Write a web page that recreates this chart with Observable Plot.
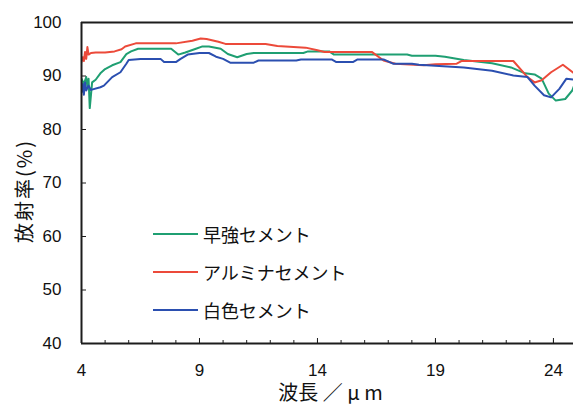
<!DOCTYPE html>
<html>
<head>
<meta charset="utf-8">
<script src="https://cdn.jsdelivr.net/npm/d3@7"></script>
<script src="https://cdn.jsdelivr.net/npm/@observablehq/plot@0.6"></script>
<style>
  html, body { margin: 0; padding: 0; background: #fff; }
  #wrap { position: relative; width: 573px; height: 404px; overflow: hidden; }
  #legend { position: absolute; left: 153px; top: 215px; font-family: "Noto Sans CJK JP", "Noto Sans", sans-serif; font-size: 18px; color: #111; }
  .item { display: flex; align-items: center; height: 38px; }
  .sw { width: 45px; height: 2px; margin-right: 5px; }
  #ytitle { position: absolute; left: 24px; top: 191px; transform: translate(-50%, -50%) rotate(-90deg);
            white-space: nowrap; font-family: "Noto Sans CJK JP", sans-serif; font-size: 20px; letter-spacing: 2px; color: #111; line-height: 1; }
</style>
</head>
<body>
<div id="wrap"><div id="ytitle"></div><div id="legend"></div></div>
<script>
// Series names and colours
const seriesNames = ["早強セメント", "アルミナセメント", "白色セメント"];
const seriesColors = ["#1f9f72", "#ec4a3a", "#2b4fb0"];

// 早強セメント (early-strength cement)
const earlyX = [4.0, 4.1, 4.2, 4.25, 4.3, 4.35, 4.45, 4.6, 4.8, 5.0, 5.3, 5.65, 5.9, 6.1, 6.4, 7.0, 7.8, 8.1, 8.4, 8.85, 9.1, 9.4, 9.9, 10.2, 10.6, 11.0, 11.3, 13.4, 13.6, 14.5, 14.7, 17.8, 18.0, 19.0, 19.4, 20.2, 21.4, 22.2, 22.8, 23.2, 23.5, 23.8, 24.1, 24.5, 24.8, 24.9];
const earlyY = [89.5, 88.5, 89.8, 88.0, 89.5, 84.0, 88.8, 89.3, 90.5, 91.3, 92.0, 92.6, 94.1, 94.6, 95.1, 95.1, 95.1, 94.0, 94.4, 95.1, 95.5, 95.5, 95.1, 94.1, 93.5, 94.1, 94.3, 94.3, 94.6, 94.6, 94.0, 94.0, 93.8, 93.8, 93.6, 93.0, 92.4, 91.6, 90.5, 90.3, 89.5, 86.7, 85.4, 85.7, 87.3, 88.5];

// アルミナセメント (alumina cement)
const aluminaX = [4.0, 4.05, 4.1, 4.15, 4.2, 4.25, 4.3, 4.4, 4.6, 5.0, 5.4, 5.7, 5.85, 6.3, 8.0, 8.7, 9.05, 9.3, 9.8, 10.1, 11.8, 12.3, 13.5, 14.0, 14.3, 16.3, 16.8, 17.3, 18.5, 19.0, 19.9, 20.1, 22.3, 22.9, 23.2, 23.5, 23.9, 24.4, 24.9];
const aluminaY = [92.6, 93.5, 92.8, 94.5, 93.2, 95.4, 94.0, 94.3, 94.4, 94.4, 94.6, 95.0, 95.5, 96.1, 96.1, 96.6, 97.0, 96.9, 96.4, 96.0, 96.0, 95.6, 95.3, 94.8, 94.5, 94.5, 92.9, 92.3, 92.0, 92.2, 92.3, 92.8, 92.8, 89.8, 88.8, 89.2, 90.7, 92.1, 90.4];

// 白色セメント (white cement)
const whiteX = [4.0, 4.05, 4.1, 4.15, 4.2, 4.3, 4.4, 4.8, 4.95, 5.3, 5.65, 5.9, 6.0, 6.5, 7.35, 7.5, 8.0, 8.2, 8.5, 9.0, 9.4, 9.7, 10.0, 10.3, 11.3, 11.5, 13.1, 13.3, 14.6, 14.8, 15.5, 15.7, 16.8, 17.2, 18.0, 18.3, 20.2, 21.4, 22.3, 22.9, 23.2, 23.6, 23.9, 24.25, 24.55, 24.9];
const whiteY = [87.0, 88.5, 86.5, 88.8, 87.3, 88.2, 87.4, 87.9, 88.2, 89.8, 90.7, 92.3, 93.0, 93.2, 93.2, 92.6, 92.6, 93.2, 94.0, 94.3, 94.3, 93.6, 93.2, 92.5, 92.5, 92.9, 92.9, 93.1, 93.1, 92.6, 92.6, 93.1, 93.1, 92.3, 92.3, 92.1, 91.6, 91.0, 90.1, 89.8, 88.2, 86.4, 86.0, 87.6, 89.5, 89.3];

// Axes
const xMajorTicks = [4, 9, 14, 19, 24];
const xMinorTicks = d3.range(4, 25, 1);
const yTicks = [40, 50, 60, 70, 80, 90, 100];
const xDomain = [4, 24.85];
const yDomain = [40, 100];
const xTitle = "波長 ／ μ m";
const yTitle = "放射率(%)";

const seriesXs = [earlyX, aluminaX, whiteX];
const seriesYs = [earlyY, aluminaY, whiteY];
const rows = seriesNames.flatMap((name, i) =>
  seriesXs[i].map((x, j) => ({series: name, x, y: seriesYs[i][j]})));

const axisColor = "#1c1c1c";
const cjk = "'Noto Sans CJK JP', sans-serif";
const chart = Plot.plot({
  width: 573,
  height: 404,
  marginLeft: 81,
  marginRight: 0,
  marginTop: 22,
  marginBottom: 61,
  style: {fontFamily: "'Liberation Sans', Arial, sans-serif", fontSize: "17px", color: "#111", background: "white", overflow: "visible"},
  x: {domain: xDomain},
  y: {domain: yDomain},
  color: {domain: seriesNames, range: seriesColors},
  marks: [
    Plot.line(rows, {x: "x", y: "y", z: "series", stroke: "series", strokeWidth: 2, clip: true}),
    Plot.axisX(xMinorTicks, {tickSize: -3, tickFormat: () => "", stroke: axisColor, label: null}),
    Plot.axisX(xMajorTicks, {tickSize: -5, tickPadding: 25, stroke: axisColor, fill: "#111", label: null, tickFormat: d => String(d)}),
    Plot.axisY(yTicks, {tickSize: -5, tickPadding: 25, stroke: axisColor, fill: "#111", label: null, tickFormat: d => String(d)}),
    Plot.ruleX([xDomain[0]], {stroke: axisColor, strokeWidth: 2}),
    Plot.ruleY([yDomain[0], yDomain[1]], {stroke: axisColor, strokeWidth: 2}),
    Plot.text([xTitle], {frameAnchor: "bottom", dx: 3, dy: 42, lineAnchor: "top", fontFamily: cjk, fontSize: 20, fill: "#111"})
  ]
});
const wrap = document.getElementById("wrap");
wrap.insertBefore(chart, wrap.firstChild);
document.getElementById("ytitle").textContent = yTitle;

const legend = document.getElementById("legend");
seriesNames.forEach((name, i) => {
  const item = document.createElement("div");
  item.className = "item";
  const sw = document.createElement("span");
  sw.className = "sw";
  sw.style.background = seriesColors[i];
  const label = document.createElement("span");
  label.textContent = name;
  item.appendChild(sw);
  item.appendChild(label);
  legend.appendChild(item);
});
</script>
</body>
</html>
